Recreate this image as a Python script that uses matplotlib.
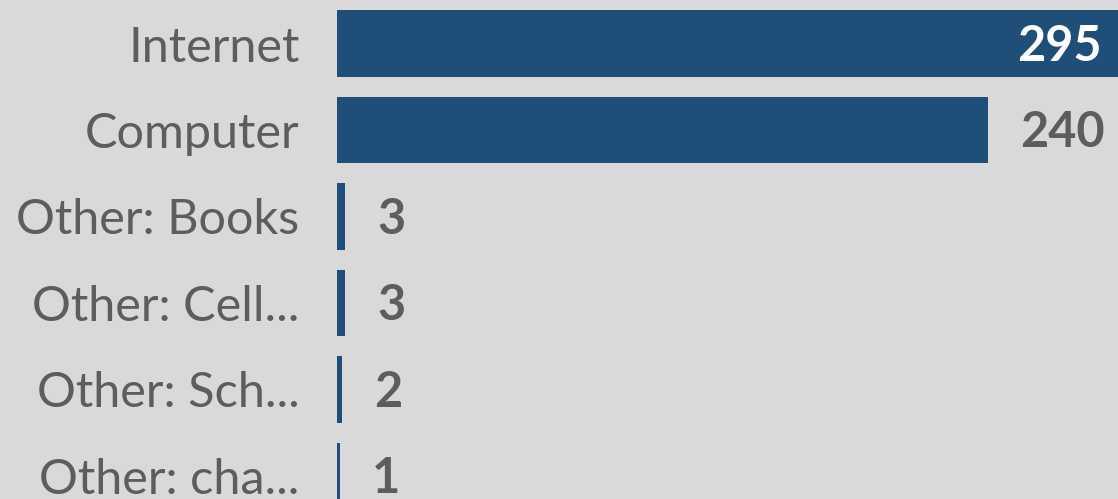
import matplotlib
matplotlib.use("Agg")
import matplotlib.pyplot as plt

categories = ["Internet", "Computer", "Other: Books", "Other: Cell...", "Other: Sch...", "Other: cha..."]
values = [295, 240, 3, 3, 2, 1]

BG = "#d9d9d9"
BAR = "#1f4e79"
TXT = "#5d5d5d"
plt.rcParams['font.family'] = ['Lato', 'DejaVu Sans']

W, H, DPI = 1118, 499, 100
fig = plt.figure(figsize=(W / DPI, H / DPI), dpi=DPI, facecolor=BG)
left_px = 337
ax = fig.add_axes([left_px / W, 0, 1 - left_px / W, 1])
ax.set_facecolor(BG)

px_per_unit = 651 / 240
xmax = (W - left_px) / px_per_unit
pitch = 86.5
ytop = -43.5 / pitch
ybot = (len(values) - 1) + (H - (43.5 + pitch * (len(values) - 1))) / pitch

ypos = list(range(len(values)))
ax.barh(ypos, values, height=0.77, color=BAR)
ax.set_xlim(0, xmax)
ax.set_ylim(ybot, ytop)

for sp in ax.spines.values():
    sp.set_visible(False)
ax.set_xticks([])
ax.set_yticks(ypos)
ax.set_yticklabels(categories, fontsize=35, color=TXT)
ax.tick_params(axis='y', length=0, pad=27)

for y, v in zip(ypos, values):
    if v > xmax - 40:
        ax.annotate(str(v), xy=(1, y), xycoords=('axes fraction', 'data'),
                    xytext=(-12, -2), textcoords='offset points',
                    ha='right', va='center', fontsize=35, fontweight='bold', color='white')
    else:
        ax.annotate(str(v), xy=(v, y), xytext=(23, -2), textcoords='offset points',
                    ha='left', va='center', fontsize=35, fontweight='bold', color=TXT)

fig.savefig("out.png", dpi=DPI, facecolor=BG)
